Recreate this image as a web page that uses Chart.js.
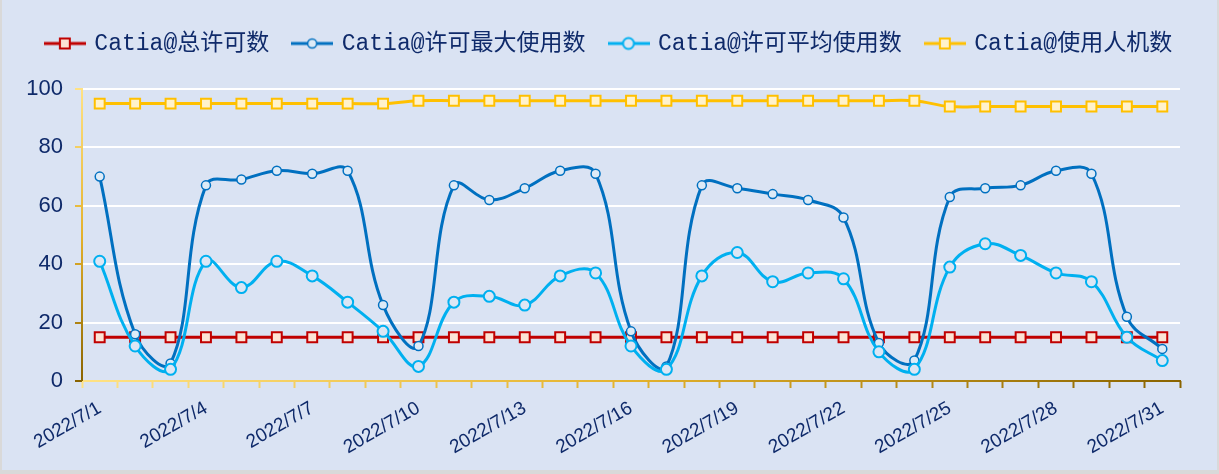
<!DOCTYPE html>
<html>
<head>
    <meta charset="utf-8">
    <title>Catia许可使用情况</title>
    <script src="https://cdn.jsdelivr.net/npm/chart.js@4.4.0/dist/chart.umd.min.js"></script>
    <style>
        html, body { margin: 0; padding: 0; background: #DAE3F3; }
        #frame {
            width: 1219px; height: 474px; box-sizing: border-box;
            border-style: solid; border-color: #D9D9D9; border-width: 0 2px 4px 2px;
            background: #DAE3F3;
        }
        canvas { display: block; }
    </style>
</head>
<body>
<div id="frame"><canvas id="licenseChart" width="1215" height="470"></canvas></div>
<script>
    // categories (one per day)
    var dates = ['2022/7/1', '2022/7/2', '2022/7/3', '2022/7/4', '2022/7/5', '2022/7/6', '2022/7/7', '2022/7/8',
        '2022/7/9', '2022/7/10', '2022/7/11', '2022/7/12', '2022/7/13', '2022/7/14', '2022/7/15', '2022/7/16',
        '2022/7/17', '2022/7/18', '2022/7/19', '2022/7/20', '2022/7/21', '2022/7/22', '2022/7/23', '2022/7/24',
        '2022/7/25', '2022/7/26', '2022/7/27', '2022/7/28', '2022/7/29', '2022/7/30', '2022/7/31'];

    // series values
    var totalLicenses = [15, 15, 15, 15, 15, 15, 15, 15, 15, 15, 15, 15, 15, 15, 15, 15,
        15, 15, 15, 15, 15, 15, 15, 15, 15, 15, 15, 15, 15, 15, 15];
    var maxUsed = [70, 16, 6, 67, 69, 72, 71, 72, 26, 12, 67, 62, 66, 72, 71, 17,
        5, 67, 66, 64, 62, 56, 13, 7, 63, 66, 67, 72, 71, 22, 11];
    var avgUsed = [41, 12, 4, 41, 32, 41, 36, 27, 17, 5, 27, 29, 26, 36, 37, 12,
        4, 36, 44, 34, 37, 35, 10, 4, 39, 47, 43, 37, 34, 15, 7];
    var users = [95, 95, 95, 95, 95, 95, 95, 95, 95, 96, 96, 96, 96, 96, 96, 96,
        96, 96, 96, 96, 96, 96, 96, 96, 94, 94, 94, 94, 94, 94, 94];

    var seriesNames = ['Catia@总许可数', 'Catia@许可最大使用数', 'Catia@许可平均使用数', 'Catia@使用人机数'];
    var yTicks = [0, 20, 40, 60, 80, 100];

    var textColor = '#0F2A6A';
    var axisLight = [255, 226, 132], axisMid = [228, 178, 44], axisDark = [138, 100, 0];

    // colour along the gold axis gradient, t from 0 (light) to 1 (dark)
    function axisColor(t) {
        var a, b, k;
        if (t < 0.5) { a = axisLight; b = axisMid; k = t * 2; }
        else { a = axisMid; b = axisDark; k = (t - 0.5) * 2; }
        var c = a.map(function (v, i) { return Math.round(v + (b[i] - v) * k); });
        return 'rgb(' + c.join(',') + ')';
    }

    // small line + marker image for the legend
    function legendIcon(ds) {
        var cv = document.createElement('canvas');
        cv.width = 42; cv.height = 16;
        var c = cv.getContext('2d');
        c.strokeStyle = ds.borderColor;
        c.lineWidth = 3;
        c.beginPath(); c.moveTo(0, 8); c.lineTo(42, 8); c.stroke();
        c.fillStyle = ds.pointBackgroundColor;
        c.strokeStyle = ds.pointBorderColor;
        c.lineWidth = ds.pointBorderWidth;
        c.beginPath();
        if (ds.pointStyle === 'rect') {
            var s = ds.pointRadius * Math.SQRT1_2;
            c.rect(21 - s, 8 - s, 2 * s, 2 * s);
        } else {
            c.arc(21, 8, ds.pointRadius, 0, Math.PI * 2);
        }
        c.fill(); c.stroke();
        return cv;
    }

    // gradient axis lines
    var axisLines = {
        id: 'axisLines',
        beforeDatasetsDraw: function (chart) {
            var ctx = chart.ctx, a = chart.chartArea;
            ctx.save();
            ctx.lineWidth = 2;
            var gx = ctx.createLinearGradient(a.left, 0, a.right, 0);
            gx.addColorStop(0, axisColor(0)); gx.addColorStop(0.5, axisColor(0.5)); gx.addColorStop(1, axisColor(1));
            ctx.strokeStyle = gx;
            ctx.beginPath(); ctx.moveTo(a.left, a.bottom); ctx.lineTo(a.right + 1, a.bottom); ctx.stroke();
            var gy = ctx.createLinearGradient(0, a.top, 0, a.bottom);
            gy.addColorStop(0, axisColor(0)); gy.addColorStop(0.5, axisColor(0.5)); gy.addColorStop(1, axisColor(1));
            ctx.strokeStyle = gy;
            ctx.beginPath(); ctx.moveTo(a.left, a.top - 1); ctx.lineTo(a.left, a.bottom); ctx.stroke();
            ctx.restore();
        }
    };

    function lineSet(label, data, color, style, radius, fill, bw, order, tension) {
        return {
            label: label, data: data,
            borderColor: color, backgroundColor: color, borderWidth: 3,
            pointStyle: style, pointRadius: radius, pointHoverRadius: radius,
            pointBackgroundColor: fill, pointBorderColor: color, pointBorderWidth: bw,
            tension: tension, order: order
        };
    }

    Chart.defaults.font.family = "'Liberation Sans', Arial, sans-serif";

    var chart = new Chart(document.getElementById('licenseChart').getContext('2d'), {
        type: 'line',
        data: {
            labels: dates,
            datasets: [
                lineSet(seriesNames[0], totalLicenses, '#C00000', 'rect', 7, '#FCE4D6', 2, 4, 0),
                lineSet(seriesNames[1], maxUsed, '#0070C0', 'circle', 4.5, '#DDEBF7', 1.5, 3, 0.4),
                lineSet(seriesNames[2], avgUsed, '#00B0F0', 'circle', 5.5, '#DCE6F4', 2, 2, 0.4),
                lineSet(seriesNames[3], users, '#FFC000', 'rect', 7, '#FFF2CC', 2, 1, 0.4)
            ]
        },
        options: {
            responsive: false,
            animation: false,
            devicePixelRatio: 1,
            layout: { padding: { top: 7, left: 0, right: 0, bottom: 0 } },
            plugins: {
                tooltip: { enabled: false },
                legend: {
                    position: 'top',
                    labels: {
                        usePointStyle: true,
                        pointStyleWidth: 36,
                        padding: 25,
                        color: textColor,
                        font: { family: "'Liberation Mono', 'Noto Sans CJK SC', monospace", size: 23 },
                        generateLabels: function (chart) {
                            return chart.data.datasets.map(function (ds, i) {
                                return {
                                    text: ds.label, datasetIndex: i, hidden: false,
                                    fillStyle: ds.borderColor, strokeStyle: ds.borderColor, lineWidth: 0,
                                    pointStyle: legendIcon(ds), fontColor: textColor
                                };
                            });
                        }
                    }
                }
            },
            scales: {
                x: {
                    offset: true,
                    afterFit: function (s) { s.height = 89; },
                    border: { display: false },
                    grid: {
                        offset: true, drawOnChartArea: false, drawTicks: true,
                        tickLength: 7, tickWidth: 2,
                        tickColor: function (c) { return axisColor((c.index === undefined ? 31 : c.index) / 31); }
                    },
                    ticks: {
                        autoSkip: false, minRotation: 30, maxRotation: 30, padding: 9,
                        color: textColor, font: { size: 19 },
                        callback: function (v, i) { return i % 3 === 0 ? dates[i] : ''; }
                    }
                },
                // empty spacer between legend and plot
                xTop: {
                    type: 'category', position: 'top',
                    afterFit: function (s) { s.height = 24; },
                    border: { display: false },
                    grid: { display: false },
                    ticks: { display: false }
                },
                y: {
                    min: 0, max: 100,
                    afterFit: function (s) { s.width = 80; },
                    afterBuildTicks: function (s) { s.ticks = yTicks.map(function (v) { return { value: v }; }); },
                    border: { display: false },
                    grid: {
                        lineWidth: 2,
                        color: function (c) { return c.tick && c.tick.value === 0 ? 'rgba(0,0,0,0)' : '#FFFFFF'; },
                        tickLength: 7, tickWidth: 2,
                        tickColor: function (c) { return axisColor(c.tick ? 1 - c.tick.value / 100 : 1); }
                    },
                    ticks: { padding: 12, color: textColor, font: { size: 22 } }
                },
                yRight: {
                    type: 'linear', position: 'right',
                    afterFit: function (s) { s.width = 37; },
                    border: { display: false },
                    grid: { display: false },
                    ticks: { display: false }
                }
            }
        },
        plugins: [axisLines]
    });
</script>
</body>
</html>
